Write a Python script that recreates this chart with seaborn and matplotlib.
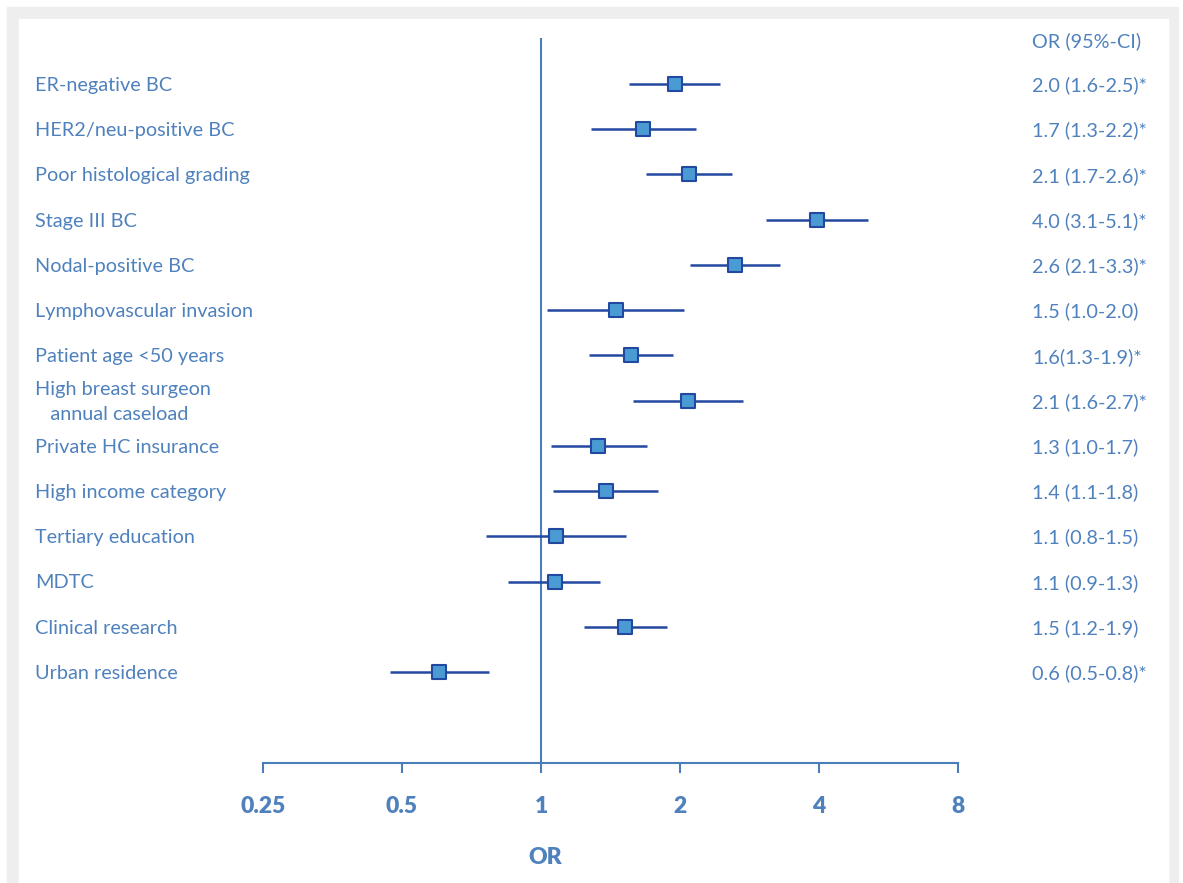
import matplotlib.pyplot as plt
import matplotlib.patches as mpatches
import matplotlib.transforms as mtransforms
import numpy as np
import pandas as pd
import seaborn as sns

labels = [
    "ER-negative BC",
    "HER2/neu-positive BC",
    "Poor histological grading",
    "Stage III BC",
    "Nodal-positive BC",
    "Lymphovascular invasion",
    "Patient age <50 years",
    "High breast surgeon\n   annual caseload",
    "Private HC insurance",
    "High income category",
    "Tertiary education",
    "MDTC",
    "Clinical research",
    "Urban residence",
]
odds = [1.95, 1.66, 2.09, 3.96, 2.63, 1.45, 1.57, 2.08, 1.33, 1.38, 1.08, 1.07, 1.52, 0.60]
ci_low = [1.55, 1.28, 1.69, 3.07, 2.10, 1.03, 1.27, 1.58, 1.05, 1.06, 0.76, 0.85, 1.24, 0.47]
ci_high = [2.44, 2.17, 2.59, 5.11, 3.29, 2.04, 1.93, 2.74, 1.70, 1.79, 1.53, 1.34, 1.87, 0.77]
or_text = [
    "2.0 (1.6-2.5)*", "1.7 (1.3-2.2)*", "2.1 (1.7-2.6)*", "4.0 (3.1-5.1)*",
    "2.6 (2.1-3.3)*", "1.5 (1.0-2.0)", "1.6(1.3-1.9)*", "2.1 (1.6-2.7)*",
    "1.3 (1.0-1.7)", "1.4 (1.1-1.8)", "1.1 (0.8-1.5)", "1.1 (0.9-1.3)",
    "1.5 (1.2-1.9)", "0.6 (0.5-0.8)*",
]
ticks = [0.25, 0.5, 1, 2, 4, 8]
tick_labels = ["0.25", "0.5", "1", "2", "4", "8"]

TXT = "#4F81BD"
LINE = "#2348A0"
FILL = "#4A9BD4"
AXC = "#4A7EBB"

sns.set_theme(style="white")
plt.rcParams["font.family"] = ["Lato", "DejaVu Sans"]

df = pd.DataFrame({"label": labels, "odds": odds, "lo": ci_low, "hi": ci_high,
                   "row": np.arange(len(labels))})

W, H = 1183, 883
fig = plt.figure(figsize=(W / 100, H / 100), dpi=100)
# grey frame around the white panel
fig.patches.append(mpatches.Rectangle((7 / W, 0), (1178 - 7) / W, (H - 7) / H,
                                      transform=fig.transFigure, color="#EEEEEE", zorder=-2))
fig.patches.append(mpatches.Rectangle((19 / W, 0), (1168 - 19) / W, (H - 19) / H,
                                      transform=fig.transFigure, color="white", zorder=-1))

ax = fig.add_axes([263 / W, 1 - 763 / H, (958 - 263) / W, (763 - 38) / H])
ax.patch.set_alpha(0)
ax.set_xscale("log", base=2)
ax.set_xlim(0.25, 8)
step = 45.23
ax.set_ylim((763 - 84) / step, (38 - 84) / step)

ax.axvline(1, color=AXC, lw=1.5, zorder=1)
ax.hlines(df["row"], df["lo"], df["hi"], color=LINE, lw=1.8, zorder=2)
sns.scatterplot(data=df, x="odds", y="row", marker="s", s=100, color=FILL,
                edgecolor=LINE, linewidth=1.5, zorder=3, ax=ax, legend=False)

for s in ["top", "left", "right"]:
    ax.spines[s].set_visible(False)
ax.spines["bottom"].set_color(AXC)
ax.spines["bottom"].set_linewidth(1.5)
ax.set_yticks([])
ax.set_xticks(ticks)
ax.set_xticklabels(tick_labels)
ax.minorticks_off()
ax.tick_params(axis="x", direction="out", length=7, width=1.5, color=AXC,
               labelcolor=TXT, labelsize=16.5, pad=17, bottom=True)
for t in ax.get_xticklabels():
    t.set_fontweight("heavy")
ax.set_xlabel("OR", color=TXT, fontsize=16.5, fontweight="heavy")
ax.xaxis.set_label_coords((545 - 263) / (958 - 263), -(858 - 763) / (763 - 38))
ax.xaxis.label.set_va("center")
ax.set_ylabel("")

left_tr = mtransforms.blended_transform_factory(fig.transFigure, ax.transData)
for lab, r in zip(labels, df["row"]):
    ax.text(35 / W, r + 0.03, lab, transform=left_tr, ha="left", va="center",
            color=TXT, fontsize=14.3, linespacing=1.55)
for txt, r in zip(or_text, df["row"]):
    ax.text(1032 / W, r + 0.03, txt, transform=left_tr, ha="left", va="center",
            color=TXT, fontsize=14.3)
ax.text(1032 / W, (41 - 84) / step, "OR (95%-CI)", transform=left_tr, ha="left",
        va="center", color=TXT, fontsize=14.3)

fig.savefig("out.png", dpi=100)
